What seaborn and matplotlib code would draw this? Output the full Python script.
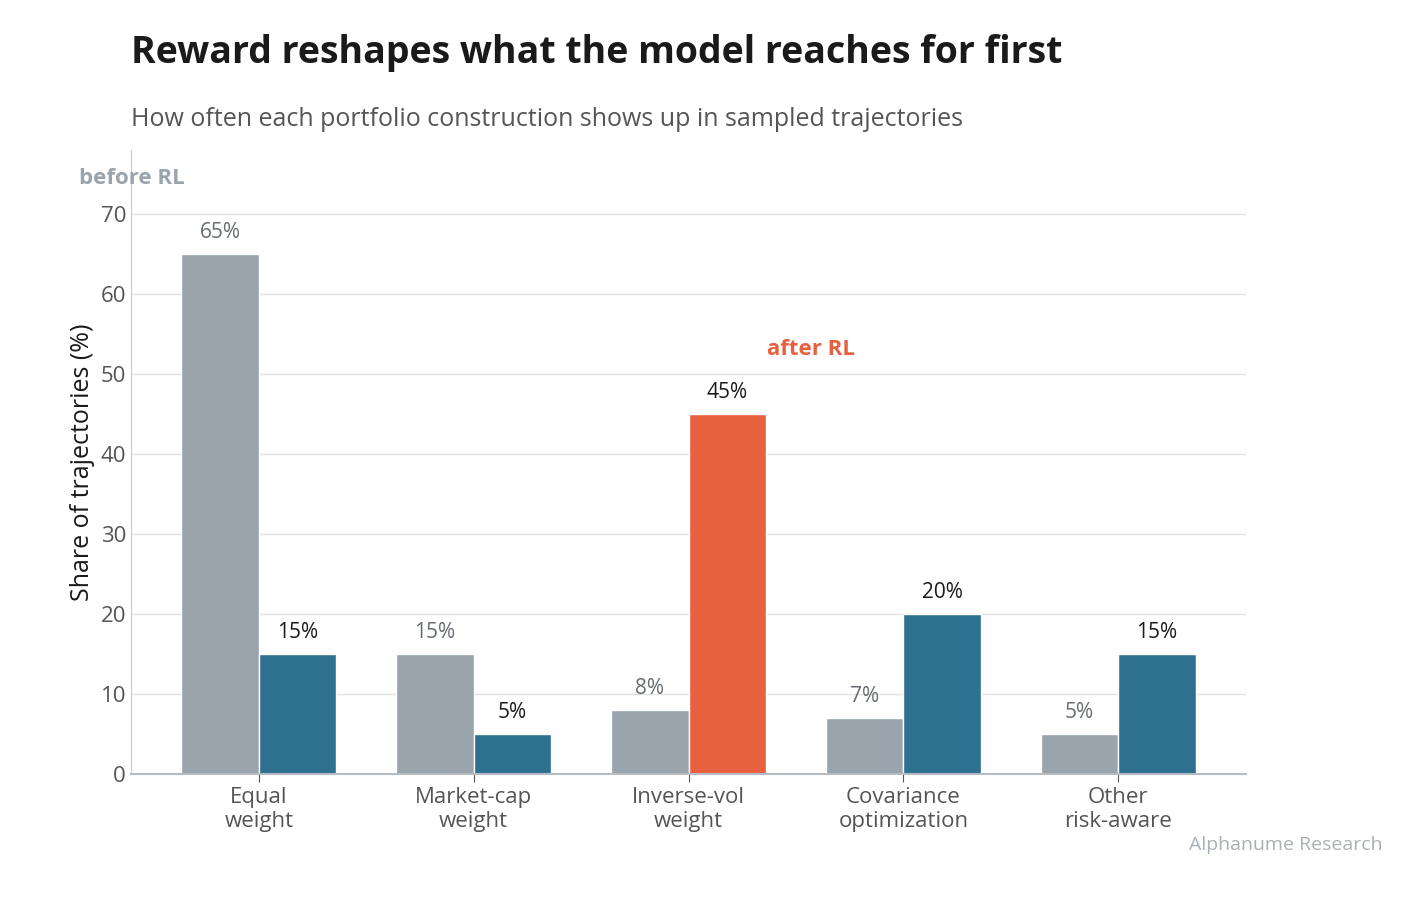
import pandas as pd
import matplotlib.pyplot as plt
import seaborn as sns

# data
categories = ["Equal\nweight", "Market-cap\nweight", "Inverse-vol\nweight",
              "Covariance\noptimization", "Other\nrisk-aware"]
before_rl = [65, 15, 8, 7, 5]
after_rl = [15, 5, 45, 20, 15]
phases = ["before RL", "after RL"]

GRAY = "#9aa4ac"
BLUE = "#2e7090"
ORANGE = "#e8613f"

df = pd.DataFrame({
    "category": categories * 2,
    "share": before_rl + after_rl,
    "phase": [phases[0]] * len(categories) + [phases[1]] * len(categories),
})

sns.set_style("white")
plt.rcParams["font.family"] = ["Open Sans", "DejaVu Sans"]

fig = plt.figure(figsize=(14.28, 8.98), dpi=100)
ax = fig.add_axes([0.0917, 0.138, 0.781, 0.695])

sns.barplot(data=df, x="category", y="share", hue="phase", hue_order=phases,
            palette=[GRAY, BLUE], width=0.72, saturation=1, ax=ax, legend=False)

# highlight the biggest shift
after_bars = ax.containers[1]
after_bars[2].set_facecolor(ORANGE)

ax.bar_label(ax.containers[0], labels=[f"{v}%" for v in before_rl],
             padding=8, fontsize=15, color="#666d73")
ax.bar_label(after_bars, labels=[f"{v}%" for v in after_rl],
             padding=8, fontsize=15, color="#1a1a1a")

ax.set_ylim(0, 78)
ax.set_xlim(-0.595, 4.595)
ax.set_yticks(range(0, 71, 10))
ax.yaxis.grid(True, color="#e3e3e3", linewidth=1)
ax.set_axisbelow(True)
ax.set_xlabel("")
ax.set_ylabel("Share of trajectories (%)", fontsize=18, color="#1a1a1a")
ax.tick_params(axis="y", labelsize=16, labelcolor="#555555", length=0)
ax.tick_params(axis="x", labelsize=16, labelcolor="#555555", length=6,
               color="#555555", bottom=True)
for s in ["top", "right"]:
    ax.spines[s].set_visible(False)
ax.spines["left"].set_color("#c8ccd0")
ax.spines["bottom"].set_color("#b5bcc2")
ax.spines["bottom"].set_linewidth(1.5)

fig.text(0.0917, 0.93, "Reward reshapes what the model reaches for first",
         fontsize=27, fontweight="bold", color="#1a1a1a")
fig.text(0.0917, 0.86, "How often each portfolio construction shows up in sampled trajectories",
         fontsize=18, color="#555555")
fig.text(0.055, 0.795, "before RL", fontsize=16, fontweight="bold", color=GRAY)
fig.text(0.537, 0.605, "after RL", fontsize=16, fontweight="bold", color=ORANGE)
fig.text(0.968, 0.053, "Alphanume Research", fontsize=14, color="#aab0b5", ha="right")

fig.savefig("out.png", dpi=100)
